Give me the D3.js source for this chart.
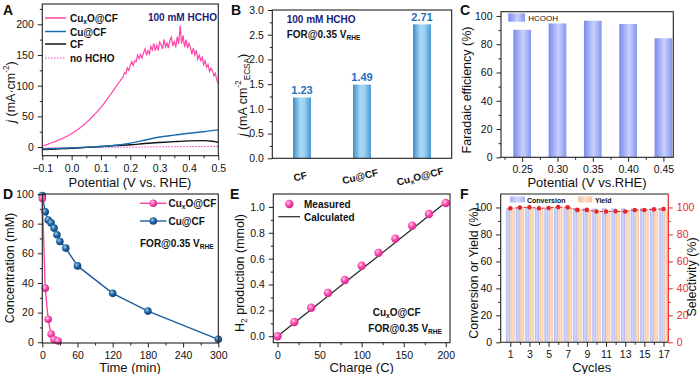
<!DOCTYPE html>
<html>
<head>
<meta charset="utf-8">
<script src="https://cdn.jsdelivr.net/npm/d3@7"></script>
<style>
  body { margin: 0; background: #fff; }
  svg { display: block; }
</style>
</head>
<body>
<script>
// ---------- data ----------
// A: LSV curves (potential V vs RHE, j mA cm-2)
const lsvStart = -0.1, lsvStep = 0.005;
const cuxoJ = [
  2, 2.6, 3.3, 4.1, 4.9, 5.8, 6.6, 7.5, 8.4, 9.3,
  10.3, 11.3, 12.3, 13.4, 14.5, 15.6, 16.8, 18.0, 19.3, 20.6,
  22, 23.5, 25, 26.6, 28.2, 30, 31.8, 33.7, 35.7, 37.7,
  39.8, 42, 44.3, 46.6, 49, 51.5, 54, 56.6, 59.2, 61.9,
  64.6, 67.6, 70.8, 74, 77.3, 80.5, 84, 87.2, 90.8, 93.9,
  97.5, 100.6, 104.8, 107.5, 111,
  114, 121, 119.5, 129, 125, 133, 139, 133, 140.5, 139,
  150, 144, 151, 145, 153.5, 160, 150.5, 157, 151.5, 164,
  158, 169, 157, 166, 157, 171, 166.5, 160, 175.5, 163,
  169.5, 161, 173.5, 179, 164.5, 173, 162.5, 180, 168, 198,
  168.5, 182, 162.5, 175, 161, 169, 162.5, 151, 161.5, 150,
  157.5, 143, 149.5, 141, 146.5, 134, 140.5, 130, 134.5, 123,
  128.5, 124, 116, 120, 109, 103
];
const cuPot = [-0.1, -0.05, 0, 0.05, 0.1, 0.15, 0.2, 0.25, 0.3, 0.35, 0.4, 0.45, 0.5];
const cuJ   = [-3, -2, -1.2, 0, 1, 3, 6.5, 11.5, 16.5, 19.5, 22.5, 25, 28];
const cfPot = [-0.1, 0, 0.05, 0.1, 0.15, 0.2, 0.25, 0.3, 0.35, 0.4, 0.45, 0.48, 0.5];
const cfJ   = [-4, -2, -0.5, 1, 2.5, 3.8, 5.8, 7.5, 9, 10.2, 10.6, 9.6, 8];
const noPot = [-0.1, 0.2, 0.5];
const noJ   = [-1.2, 0, 1.2];

// B: ECSA-normalised current
const catsB = ['CF', 'Cu@CF', 'CuxO@CF'];
const ecsaJ = [1.23, 1.49, 2.71];

// C: Faradaic efficiency
const potC = [0.25, 0.30, 0.35, 0.40, 0.45];
const feC  = [90.2, 94.7, 96.6, 94.3, 84.2];

// D: HCHO concentration vs time
const tCuxO = [0, 5, 10, 15, 20, 27];
const cCuxO = [97, 36.5, 15.5, 5.5, 1.8, 0.8];
const tCu = [0, 5, 10, 15, 20, 25, 30, 40, 60, 120, 180, 300];
const cCu = [99, 88, 82.5, 80.5, 77, 72.5, 68, 63.5, 51.5, 33, 21, 2];

// E: H2 production vs charge
const chargeE = [0, 20, 40, 60, 80, 100, 120, 140, 160, 180, 200];
const h2Meas  = [0, 0.11, 0.22, 0.335, 0.435, 0.545, 0.645, 0.755, 0.855, 0.945, 1.03];
const calcQ   = [0, 200];
const h2Calc  = [0, 1.036];

// F: cycling
const cycles      = [1, 2, 3, 4, 5, 6, 7, 8, 9, 10, 11, 12, 13, 14, 15, 16, 17];
const conversion  = [99.5, 99.6, 99.7, 99.5, 99.6, 99.7, 99.6, 99.4, 99.5, 99.4, 99.5, 99.4, 99.5, 99.4, 99.5, 99.4, 99.5];
const yieldF      = [99.0, 99.4, 99.6, 98.9, 99.2, 99.9, 99.6, 97.6, 97.7, 96.4, 96.5, 96.6, 96.5, 97.5, 97.6, 98.0, 98.4];
const selectivity = [99.4, 99.9, 100.1, 99.4, 99.6, 100.3, 100.1, 98.2, 98.2, 97.0, 97.0, 97.2, 97.0, 98.1, 98.1, 98.6, 98.9];

// ---------- setup ----------
const FONT = '"Liberation Sans", Arial, sans-serif';
const INK = '#222';
const svg = d3.select('body').append('svg')
  .attr('width', 700).attr('height', 374)
  .attr('font-family', FONT);
const defs = svg.append('defs');

function hGrad(id, stops) {
  const lg = defs.append('linearGradient').attr('id', id)
    .attr('x1', 0).attr('x2', 1).attr('y1', 0).attr('y2', 0);
  stops.forEach(s => lg.append('stop').attr('offset', s[0]).attr('stop-color', s[1]));
}
function ball(id, hi, mid, edge) {
  const rg = defs.append('radialGradient').attr('id', id)
    .attr('cx', 0.38).attr('cy', 0.35).attr('r', 0.7);
  rg.append('stop').attr('offset', 0).attr('stop-color', hi);
  rg.append('stop').attr('offset', 0.45).attr('stop-color', mid);
  rg.append('stop').attr('offset', 1).attr('stop-color', edge);
}
hGrad('gB', [[0, '#3e8ccb'], [0.4, '#a5d8f5'], [0.62, '#9fd3f2'], [1, '#4c97d2']]);
hGrad('gC', [[0, '#7a8aec'], [0.55, '#c9d0fc'], [1, '#8797ef']]);
hGrad('gConv', [[0, '#a6b1f4'], [0.5, '#d5daf9'], [1, '#aab4f4']]);
hGrad('gYield', [[0, '#f5bf94'], [0.5, '#fce0cb'], [1, '#f6c39a']]);
ball('pinkBall', '#ffd0ec', '#ff4fb2', '#c81d80');
ball('blueBall', '#a9cdea', '#2169aa', '#0d3c6b');

function frame(l, r, t, b) {
  svg.append('rect').attr('x', l).attr('y', t)
    .attr('width', r - l).attr('height', b - t)
    .attr('fill', 'none').attr('stroke', INK).attr('stroke-width', 1.1);
}

function addAxis(orient, scale, pos, major, minor, fmt, color) {
  color = color || INK;
  const mk = { left: d3.axisLeft, right: d3.axisRight, bottom: d3.axisBottom }[orient];
  const tr = orient === 'bottom' ? `translate(0,${pos})` : `translate(${pos},0)`;
  const g = svg.append('g').attr('transform', tr);
  if (minor) {
    g.append('g').call(mk(scale).tickValues(minor).tickSize(2.5).tickFormat(''));
  }
  g.append('g').call(mk(scale).tickValues(major).tickSize(4.5).tickPadding(4).tickFormat(fmt))
    .attr('font-size', 10.5).attr('font-family', FONT);
  g.selectAll('.domain').remove();
  g.selectAll('line').attr('stroke', color).attr('stroke-width', 1);
  g.selectAll('text').attr('fill', orient === 'right' ? color : '#111');
  if (orient === 'right') {
    svg.append('line').attr('x1', pos).attr('x2', pos)
      .attr('y1', scale.range()[0]).attr('y2', scale.range()[1])
      .attr('stroke', color).attr('stroke-width', 1.2);
  }
  return g;
}

// text with italic / super / subscript parts
function rich(t, fs, parts) {
  let cur = 0;
  parts.forEach(p => {
    const k = p[1] || '';
    const off = k === 'sup' ? -0.42 * fs : k === 'sub' ? 0.3 * fs : 0;
    const ts = t.append('tspan').text(p[0]).attr('dy', off - cur);
    cur = off;
    if (k === 'sup' || k === 'sub') ts.attr('font-size', fs * 0.66);
    if (k === 'i') ts.attr('font-style', 'italic');
  });
  return t;
}
function label(x, y, fs, parts, opts) {
  opts = opts || {};
  const t = svg.append('text')
    .attr('x', x).attr('y', y)
    .attr('font-size', fs)
    .attr('text-anchor', opts.anchor || 'start')
    .attr('dominant-baseline', 'central')
    .attr('font-weight', opts.bold ? 'bold' : null)
    .attr('fill', opts.fill || '#111');
  if (opts.rotate !== undefined) t.attr('transform', `rotate(${opts.rotate},${x},${y})`);
  return rich(t, fs, parts);
}
function letter(x, y, s) {
  svg.append('text').attr('x', x).attr('y', y).attr('font-size', 14)
    .attr('font-weight', 'bold').attr('fill', '#111').text(s);
}
const cuxoParts = [['Cu'], ['x', 'sub'], ['O@CF']];
const forParts = [['FOR@0.35 V'], ['RHE', 'sub']];

// ---------- A ----------
{
  const P = { l: 42.3, r: 218.3, t: 4, b: 155.7 };
  const x = d3.scaleLinear().domain([-0.1, 0.5]).range([P.l, P.r]);
  const y = d3.scaleLinear().domain([-14, 233]).range([P.b, P.t]);
  const line = d3.line().x(d => x(d[0])).y(d => y(d[1]));
  svg.append('path').datum(noPot.map((p, i) => [p, noJ[i]])).attr('d', line)
    .attr('fill', 'none').attr('stroke', '#e040c0').attr('stroke-width', 1).attr('stroke-dasharray', '1.5,1.5');
  svg.append('path').datum(cfPot.map((p, i) => [p, cfJ[i]])).attr('d', line.curve(d3.curveMonotoneX))
    .attr('fill', 'none').attr('stroke', '#111').attr('stroke-width', 1.4);
  svg.append('path').datum(cuPot.map((p, i) => [p, cuJ[i]])).attr('d', line.curve(d3.curveMonotoneX))
    .attr('fill', 'none').attr('stroke', '#1a6db0').attr('stroke-width', 1.4);
  svg.append('path').datum(cuxoJ.map((v, i) => [lsvStart + i * lsvStep, v])).attr('d', line.curve(d3.curveLinear))
    .attr('fill', 'none').attr('stroke', '#ff45a8').attr('stroke-width', 1.2);
  frame(P.l, P.r, P.t, P.b);
  addAxis('left', y, P.l, [0, 50, 100, 150, 200], [25, 75, 125, 175, 225], d3.format('d'));
  addAxis('bottom', x, P.b, [-0.1, 0, 0.1, 0.2, 0.3, 0.4, 0.5], [-0.05, 0.05, 0.15, 0.25, 0.35, 0.45], d3.format('.1f'));
  // legend
  const leg = [
    { c: '#ff45a8', d: null, y: 18, t: cuxoParts },
    { c: '#1a6db0', d: null, y: 31.5, t: [['Cu@CF']] },
    { c: '#111', d: null, y: 44, t: [['CF']] },
    { c: '#e040c0', d: '1.5,1.5', y: 58, t: [['no HCHO']] }
  ];
  leg.forEach(e => {
    svg.append('line').attr('x1', 45).attr('x2', 66).attr('y1', e.y).attr('y2', e.y)
      .attr('stroke', e.c).attr('stroke-width', e.d ? 1 : 1.5).attr('stroke-dasharray', e.d);
    label(70, e.y, 10, e.t, { bold: true });
  });
  label(148, 17, 10, [['100 mM HCHO']], { bold: true, fill: '#1c1c7a' });
  label(11, 92, 12.5, [['j', 'i'], [' (mA·cm'], ['-2', 'sup'], [')']], { anchor: 'middle', rotate: -90 });
  label(130, 182, 13, [['Potential (V vs. RHE)']], { anchor: 'middle' });
  letter(3, 15, 'A');
}

// ---------- B ----------
{
  const P = { l: 272.3, r: 451.7, t: 10, b: 158.3 };
  const x = d3.scaleBand().domain(catsB).range([P.l, P.r]).paddingInner(0.7).paddingOuter(0.345);
  const y = d3.scaleLinear().domain([0, 3]).range([P.b, P.t]);
  svg.selectAll('.barB').data(catsB).enter().append('rect')
    .attr('x', d => x(d)).attr('width', x.bandwidth())
    .attr('y', (d, i) => y(ecsaJ[i])).attr('height', (d, i) => P.b - y(ecsaJ[i]))
    .attr('fill', 'url(#gB)');
  catsB.forEach((c, i) => {
    svg.append('text').attr('x', x(c) + x.bandwidth() / 2).attr('y', y(ecsaJ[i]) - 3.5)
      .attr('text-anchor', 'middle').attr('font-size', 11).attr('font-weight', 'bold')
      .attr('fill', '#1f6fba').text(ecsaJ[i].toFixed(2));
    const cx = x(c) + x.bandwidth() / 2 - 2;
    const parts = c === 'CuxO@CF' ? cuxoParts : [[c]];
    label(cx, 176, 10, parts, { anchor: 'middle', bold: true, rotate: -14 });
  });
  frame(P.l, P.r, P.t, P.b);
  addAxis('left', y, P.l, [0, 0.5, 1, 1.5, 2, 2.5, 3], [0.25, 0.75, 1.25, 1.75, 2.25, 2.75], d3.format('.1f'));
  label(286.7, 19, 10, [['100 mM HCHO']], { bold: true, fill: '#1c1c7a' });
  label(286.7, 34, 10, forParts, { bold: true });
  label(243, 95, 12.5, [['j', 'i'], [' (mA cm'], ['-2', 'sup'], ['ECSA', 'sub'], [')']], { anchor: 'middle', rotate: -90 });
  letter(231, 15, 'B');
}

// ---------- C ----------
{
  const P = { l: 501, r: 673.3, t: 11.7, b: 157.3 };
  const x = d3.scaleLinear().domain([0.22, 0.464]).range([P.l, P.r]);
  const y = d3.scaleLinear().domain([0, 103]).range([P.b, P.t]);
  const bw = 17.7;
  svg.selectAll('.barC').data(potC).enter().append('rect')
    .attr('x', d => x(d) - bw / 2).attr('width', bw)
    .attr('y', (d, i) => y(feC[i])).attr('height', (d, i) => P.b - y(feC[i]))
    .attr('fill', 'url(#gC)');
  frame(P.l, P.r, P.t, P.b);
  addAxis('left', y, P.l, [0, 20, 40, 60, 80, 100], [10, 30, 50, 70, 90], d3.format('d'));
  addAxis('bottom', x, P.b, potC, [0.225, 0.275, 0.325, 0.375, 0.425], d3.format('.2f'));
  svg.append('rect').attr('x', 508.3).attr('y', 13.3).attr('width', 16.7).attr('height', 8.4).attr('fill', 'url(#gC)');
  label(528.3, 17.5, 8, [['HCOOH']], {});
  label(467, 90, 12.5, [['Faradaic efficiency (%)']], { anchor: 'middle', rotate: -90 });
  label(587, 181.7, 13, [['Potential (V vs.RHE)']], { anchor: 'middle' });
  letter(460, 15, 'C');
}

// ---------- D ----------
{
  const P = { l: 42.3, r: 218.3, t: 194, b: 343 };
  const x = d3.scaleLinear().domain([0, 300]).range([P.l, P.r]);
  const y = d3.scaleLinear().domain([-0.5, 100]).range([P.b, P.t]);
  const line = d3.line().x(d => x(d[0])).y(d => y(d[1]));
  const series = [
    { t: tCu, c: cCu, col: '#1b5f9e', fill: 'url(#blueBall)' },
    { t: tCuxO, c: cCuxO, col: '#ff45a8', fill: 'url(#pinkBall)' }
  ];
  series.forEach(s => {
    const pts = s.t.map((t, i) => [t, s.c[i]]);
    svg.append('path').datum(pts).attr('d', line).attr('fill', 'none')
      .attr('stroke', s.col).attr('stroke-width', 1.4);
    svg.selectAll(null).data(pts).enter().append('circle')
      .attr('cx', d => x(d[0])).attr('cy', d => y(d[1])).attr('r', 3.8)
      .attr('fill', s.fill);
  });
  frame(P.l, P.r, P.t, P.b);
  addAxis('left', y, P.l, [0, 20, 40, 60, 80, 100], [10, 30, 50, 70, 90], d3.format('d'));
  addAxis('bottom', x, P.b, [0, 60, 120, 180, 240, 300], [30, 90, 150, 210, 270], d3.format('d'));
  [{ y: 203.3, col: '#ff45a8', fill: 'url(#pinkBall)', t: cuxoParts },
   { y: 221, col: '#1b5f9e', fill: 'url(#blueBall)', t: [['Cu@CF']] }].forEach(e => {
    svg.append('line').attr('x1', 140).attr('x2', 166.5).attr('y1', e.y).attr('y2', e.y)
      .attr('stroke', e.col).attr('stroke-width', 1.4);
    svg.append('circle').attr('cx', 153.3).attr('cy', e.y).attr('r', 3.8).attr('fill', e.fill);
    label(168.5, e.y, 10, e.t, { bold: true });
  });
  label(140, 243.3, 10, forParts, { bold: true });
  label(10, 268, 12.5, [['Concentration (mM)']], { anchor: 'middle', rotate: -90 });
  label(130, 367, 13, [['Time (min)']], { anchor: 'middle' });
  letter(3, 199, 'D');
}

// ---------- E ----------
{
  const P = { l: 273.3, r: 450, t: 194, b: 342.7 };
  const x = d3.scaleLinear().domain([-5, 205]).range([P.l, P.r]);
  const y = d3.scaleLinear().domain([-0.05, 1.1]).range([P.b, P.t]);
  const line = d3.line().x(d => x(d[0])).y(d => y(d[1]));
  svg.append('path').datum(calcQ.map((q, i) => [q, h2Calc[i]])).attr('d', line)
    .attr('fill', 'none').attr('stroke', '#222').attr('stroke-width', 1.2);
  svg.selectAll(null).data(chargeE).enter().append('circle')
    .attr('cx', d => x(d)).attr('cy', (d, i) => y(h2Meas[i])).attr('r', 4.2)
    .attr('fill', 'url(#pinkBall)');
  frame(P.l, P.r, P.t, P.b);
  addAxis('left', y, P.l, [0, 0.2, 0.4, 0.6, 0.8, 1.0], [0.1, 0.3, 0.5, 0.7, 0.9], d3.format('.1f'));
  addAxis('bottom', x, P.b, [0, 50, 100, 150, 200], [25, 75, 125, 175], d3.format('d'));
  svg.append('circle').attr('cx', 289.3).attr('cy', 204).attr('r', 4.2).attr('fill', 'url(#pinkBall)');
  label(304, 204, 10, [['Measured']], { bold: true });
  svg.append('line').attr('x1', 278.3).attr('x2', 300).attr('y1', 216.7).attr('y2', 216.7)
    .attr('stroke', '#222').attr('stroke-width', 1.2);
  label(304, 216.7, 10, [['Calculated']], { bold: true });
  label(396.7, 311.7, 10, cuxoParts, { bold: true, anchor: 'middle' });
  label(368.3, 328.3, 10, forParts, { bold: true });
  label(240, 273, 12.5, [['H'], ['2', 'sub'], [' production (mmol)']], { anchor: 'middle', rotate: -90 });
  label(361.7, 367, 13, [['Charge (C)']], { anchor: 'middle' });
  letter(230, 199, 'E');
}

// ---------- F ----------
{
  const P = { l: 500.7, r: 668.3, t: 194, b: 342.3 };
  const RED = '#e5262b';
  const x = d3.scaleLinear().domain([0, 17.5]).range([P.l, P.r]);
  const y = d3.scaleLinear().domain([0, 110]).range([P.b, P.t]);
  const bw = x(0.42) - x(0);
  svg.selectAll('.conv').data(cycles).enter().append('rect')
    .attr('x', d => x(d - 0.22) - bw / 2).attr('width', bw)
    .attr('y', (d, i) => y(conversion[i])).attr('height', (d, i) => P.b - y(conversion[i]))
    .attr('fill', 'url(#gConv)');
  svg.selectAll('.yld').data(cycles).enter().append('rect')
    .attr('x', d => x(d + 0.24) - bw / 2).attr('width', bw)
    .attr('y', (d, i) => y(yieldF[i])).attr('height', (d, i) => P.b - y(yieldF[i]))
    .attr('fill', 'url(#gYield)');
  const pts = cycles.map((c, i) => [c, selectivity[i]]);
  svg.append('path').datum(pts)
    .attr('d', d3.line().x(d => x(d[0])).y(d => y(d[1])))
    .attr('fill', 'none').attr('stroke', RED).attr('stroke-width', 1).attr('stroke-dasharray', '3,1.5');
  svg.selectAll(null).data(pts).enter().append('circle')
    .attr('cx', d => x(d[0])).attr('cy', d => y(d[1])).attr('r', 2.3).attr('fill', RED);
  // frame: left, top, bottom dark; right red
  svg.append('path').attr('d', `M${P.r},${P.t}H${P.l}V${P.b}H${P.r}`)
    .attr('fill', 'none').attr('stroke', INK).attr('stroke-width', 1.1);
  addAxis('left', y, P.l, [0, 20, 40, 60, 80, 100], [10, 30, 50, 70, 90], d3.format('d'));
  addAxis('right', y, P.r, [0, 20, 40, 60, 80, 100], [10, 30, 50, 70, 90], d3.format('d'), RED);
  addAxis('bottom', x, P.b, [1, 3, 5, 7, 9, 11, 13, 15, 17], [2, 4, 6, 8, 10, 12, 14, 16], d3.format('d'));
  svg.append('rect').attr('x', 510).attr('y', 196.5).attr('width', 15).attr('height', 6).attr('fill', 'url(#gConv)');
  label(527, 199.5, 7, [['Conversion']], { bold: true });
  svg.append('rect').attr('x', 578.3).attr('y', 196.5).attr('width', 14).attr('height', 6).attr('fill', 'url(#gYield)');
  label(595, 199.5, 7, [['Yield']], { bold: true });
  label(474, 273, 12.5, [['Conversion or Yield (%)']], { anchor: 'middle', rotate: -90 });
  label(692, 277, 12.5, [['Selectivity (%)']], { anchor: 'middle', rotate: -90 });
  label(591.7, 367, 13, [['Cycles']], { anchor: 'middle' });
  letter(460, 199, 'F');
}
</script>
</body>
</html>
